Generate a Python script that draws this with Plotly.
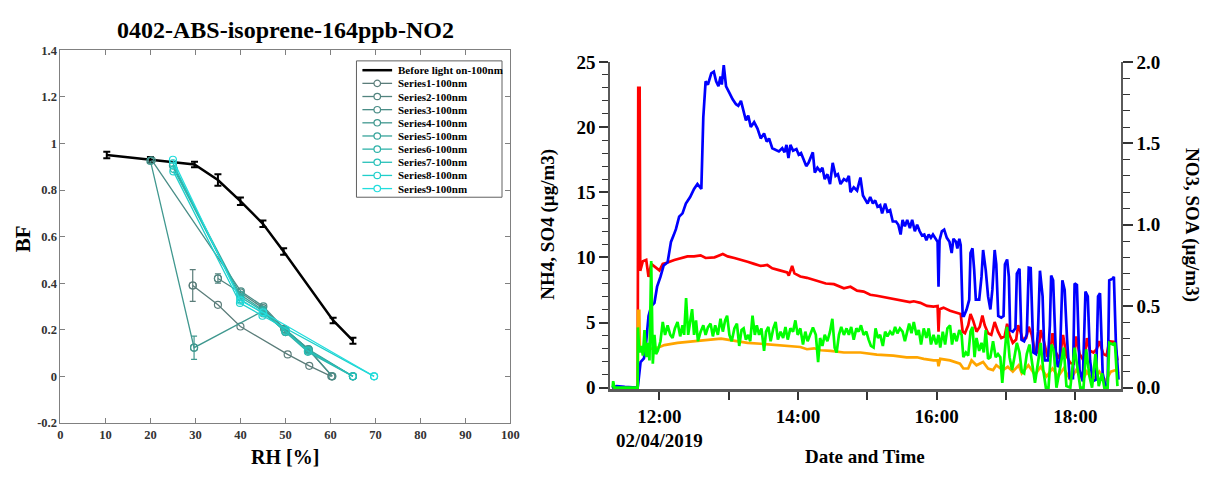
import pandas as pd
import plotly.graph_objects as go

# ---------------- Left panel data: BF vs RH ----------------
rh_before = [10.3, 20.0, 29.8, 35.0, 40.0, 45.0, 49.6, 60.6, 65.0]
bf_before = [0.950, 0.930, 0.910, 0.843, 0.752, 0.655, 0.536, 0.240, 0.153]
err_before = [0.014, 0.012, 0.012, 0.025, 0.016, 0.014, 0.014, 0.012, 0.013]

series_names = ["Series%d-100nm" % i for i in range(1, 10)]
rh_series = [
    [29.4, 35.0, 40.0, 50.5, 55.3, 60.2],
    [35.0, 40.0, 45.0, 49.7, 55.1, 60.4],
    [20.3, 40.1, 45.1, 50.0, 55.1, 60.4],
    [20.0, 29.7, 45.0, 50.0, 55.2, 65.0],
    [25.0, 40.0, 45.0, 50.0, 55.2, 65.0],
    [25.2, 40.0, 45.0, 50.0, 55.0, 65.0],
    [25.0, 40.0, 45.1, 50.0, 55.0, 65.0],
    [25.1, 39.9, 44.9, 69.7],
    [25.0, 40.0, 45.0, 69.7],
]
bf_series = [
    [0.390, 0.307, 0.214, 0.094, 0.045, 0.0],
    [0.420, 0.360, 0.293, 0.204, 0.117, 0.0],
    [0.928, 0.365, 0.300, 0.200, 0.115, 0.0],
    [0.925, 0.123, 0.280, 0.190, 0.110, 0.0],
    [0.905, 0.350, 0.285, 0.200, 0.115, 0.0],
    [0.890, 0.340, 0.280, 0.190, 0.105, 0.0],
    [0.915, 0.330, 0.270, 0.195, 0.110, 0.0],
    [0.880, 0.315, 0.260, 0.0],
    [0.930, 0.325, 0.275, 0.0],
]
# (series index, point index, error)
series_errors = [(0, 0, 0.068), (1, 0, 0.02), (3, 1, 0.05)]
series_colors = ["#5b7d7a", "#52847f", "#4a8d87", "#40988f", "#37a49b",
                 "#2eb2a9", "#26c0b9", "#20cfcb", "#22dddd"]

# ---------------- Right panel data: time series (minutes after 11:00) ----------------
t_so4 = [19, 41.2, 41.7, 42.9, 43.4, 45.7, 48.6, 50.6, 52.9, 55.7, 60, 62.9, 67.1, 72.9, 78.6, 84.3, 90, 95.7, 100,
         107.7, 114.9, 119.1, 124.9, 130.6, 136.3, 142, 147.7, 153.4, 157.7, 163.4, 170.6, 172, 174.9, 176.9, 182, 187.7,
         191.1, 196.8, 204, 211.1, 219.7, 225.4, 231.1, 236.8, 242.5, 248.2, 254, 259.7, 265.4, 271.1, 276.8,
         280.2, 285.9, 291.6, 297.3, 300.8, 301.6, 302.5, 305.9, 311.6, 317.3, 320.8, 322.5, 324.5, 327.3, 329.3, 331.6,
         334.5, 337.3, 339.6, 341.6, 344.5, 347.3, 350.2, 353.1, 355.9, 358.8, 361, 363.1, 365.9, 368.8,
         370.5, 372.5, 374.5, 377.4, 379.7, 382.3, 385.1, 388, 390, 392.8, 395.7, 398, 400.3, 403.1, 406.5, 409.4,
         412.3, 415.7, 418.5, 420.8, 423.7, 428, 430, 432.8, 435.7, 438.5, 440.8, 444.3, 447.1, 449.4, 454, 456.5]
so4 = [0, 0, 23.0, 23.0, 8.97, 9.7, 9.8, 8.5, 9.5, 9.3, 9.0, 9.5, 9.6, 9.8, 9.95, 10.07, 10.07, 10.15, 9.95,
       10.0, 10.25, 10.07, 9.95, 9.83, 9.66, 9.5, 9.34, 9.41, 9.16, 9.02, 8.85, 8.6, 9.34, 8.77, 8.53, 8.43,
       8.35, 8.18, 7.99, 7.94, 7.62, 7.74, 7.44, 7.37, 7.13, 7.05, 6.95, 6.81, 6.76, 6.63, 6.56,
       6.63, 6.51, 6.27, 6.22, 6.27, 4.3, 6.02, 6.14, 5.9, 5.77, 5.65, 4.3, 4.18, 4.79, 5.65, 5.14,
       4.3, 4.67, 5.53, 4.79, 4.18, 4.05, 5.04, 4.3, 3.81, 3.93, 4.91, 4.05, 3.44, 3.69,
       4.79, 4.3, 3.69, 3.81, 4.67, 4.05, 2.7, 2.7, 4.42, 3.56, 2.46, 2.46, 4.18, 2.7, 2.21, 4.05,
       2.46, 1.89, 1.84, 3.93, 2.58, 1.97, 3.81, 2.83, 2.7, 2.95, 3.56, 2.58, 2.46, 3.56, 3.51, 2.09]

t_nh4 = [19, 41.2, 41.4, 42.6, 43.1, 50, 58.6, 64.3, 75.7, 87.1, 104.3, 113.4, 124.9, 136.3, 147.7, 159.1, 170.6,
         182, 187.7, 194, 199.7, 208.2, 219.7, 234, 248.2, 262.5, 274, 283, 288.8, 297.3, 300.8, 301.6, 303.1,
         311.6, 320.2, 323.1, 327.3, 330.2, 334.5, 340.2, 344.5, 348.8, 351.6, 357.3, 361.6, 365.9, 371, 373.7,
         379.4, 385.1, 390, 395.1, 400.3, 405.1, 410, 415.7, 420.8, 426.5, 430, 435.1, 440.8, 446, 450.8, 455.1, 457.4]
nh4 = [0, 0, 5.9, 5.9, 3.05, 2.95, 3.07, 3.27, 3.44, 3.56, 3.69, 3.76, 3.61, 3.44, 3.37, 3.27, 3.19,
       3.12, 2.95, 3.02, 2.87, 2.83, 2.70, 2.70, 2.53, 2.46, 2.33, 2.33, 2.21, 2.09, 2.1, 1.65, 2.21,
       2.09, 1.84, 1.47, 1.47, 2.09, 1.72, 1.97, 1.47, 1.35, 1.72, 1.35, 1.6, 1.23, 1.72, 1.1,
       1.72, 0.98, 1.6, 0.86, 1.47, 0.86, 1.47, 0.61, 1.35, 0.61, 1.23, 0.57, 1.23, 0.49, 1.23, 1.35, 1.1]

t_soa = [19, 23, 30, 40, 41.4, 43.7, 46.6, 48.6, 50.6, 52.9, 55.7, 58, 60.9, 63.7, 67.1, 70, 72.3, 74.3, 77.1, 80,
         82.9, 86.6, 90, 92.9, 96.3, 98, 100, 102,
         104.9, 107.1, 109.1, 111.1, 112.9, 114, 115.7, 117.7, 120.6, 123.4, 126.3, 128.3, 130.6, 133.4, 134.9,
         136.9, 139.1, 142, 144.9, 147.7, 150.6, 152.9, 154.9, 157.7, 160.6, 163.4, 166.3, 168.3, 170, 171.7,
         173.4, 175.7, 178.6, 180.6, 182.6, 184.9, 187.1, 189.1,
         191.1, 192.8, 194.5, 196.8, 199.1, 201.1, 203.1, 205.4, 207.7, 210, 212.5, 214.5, 216.8, 219.7, 222,
         224, 225.4, 228.2, 231.1, 234, 236.2, 238.2, 240.2, 242.5, 244.8, 246.8, 248.8, 251.1, 252.8, 255.4,
         257.4, 259.7, 262, 264.8, 266.8, 268.8, 270.5, 272.5, 274.5, 276.8, 278.8, 281.1, 283.1,
         285.3, 287.3, 289.3, 291.1, 293.1, 295, 296.8, 298.8, 300.8, 301.6, 302.5, 304.5, 306.5, 308.8, 311.1,
         313, 314.5, 316.8, 317.9, 319.6, 320.8, 322.5, 323.6, 325.9, 328.2, 329.3, 331, 332.5, 333.9, 336.8,
         338.8, 340.2, 342.5, 344.5, 346.5, 348.2, 350.2, 351.6, 353.3, 355.9, 357.9, 359.1, 361, 362.5, 363.6,
         365.9, 368.2,
         369.4, 371.7, 373.4, 375.7, 378, 379.7, 381.4, 383.7, 386, 387.7, 389.4, 391.7, 393.4, 396.3, 398,
         399.1, 400.8, 403.1, 404.8, 406.5, 408.8, 410.8, 412.8, 415.1, 418, 419.4, 421.4, 423.7, 426.5, 428.8,
         430.8, 432.8, 435.1, 438, 439.7, 441.4, 443.7, 446, 448, 449.4, 452.3, 453.4, 455.1, 457.4]
soa = [0.0, 0.01, 0.005, 0.0, 0.01, 0.157, 0.18, 0.285, 0.44, 0.50, 0.52, 0.62, 0.68, 0.75, 0.77, 0.895, 0.935,
       0.973, 1.05, 1.07, 1.13, 1.17, 1.22, 1.25, 1.22, 1.66, 1.88, 1.86,
       1.93, 1.94, 1.88, 1.85, 1.91, 1.86, 1.98, 1.85, 1.81, 1.77, 1.74, 1.73, 1.76, 1.69, 1.64,
       1.67, 1.60, 1.63, 1.59, 1.53, 1.56, 1.51, 1.53, 1.47, 1.46, 1.45, 1.47, 1.445, 1.49, 1.41,
       1.49, 1.455, 1.465, 1.43, 1.44, 1.40, 1.36, 1.38,
       1.42, 1.445, 1.32, 1.35, 1.33, 1.35, 1.28, 1.31, 1.25, 1.38, 1.30, 1.31, 1.25, 1.28, 1.27,
       1.30, 1.20, 1.23, 1.21, 1.29, 1.18, 1.15, 1.13, 1.17, 1.13, 1.15, 1.11, 1.12, 1.07, 1.13,
       1.08, 1.09, 1.02, 1.02, 1.00, 0.94, 1.03, 0.99, 1.03, 0.98, 1.03, 0.96, 1.00,
       0.96, 0.934, 0.94, 0.905, 0.94, 0.92, 0.94, 0.914, 0.895, 0.62, 0.905, 0.96, 0.97, 0.92, 0.895,
       0.826, 0.914, 0.895, 0.855, 0.914, 0.875, 0.44, 0.44, 0.48, 0.54, 0.826, 0.855, 0.72, 0.54, 0.54,
       0.68, 0.845, 0.72, 0.56, 0.48, 0.60, 0.845, 0.757, 0.44, 0.43, 0.44, 0.757, 0.787, 0.68, 0.354,
       0.344, 0.364,
       0.70, 0.73, 0.295, 0.285, 0.324, 0.737, 0.734, 0.216, 0.206, 0.344, 0.718, 0.56, 0.167, 0.167, 0.383,
       0.688, 0.659, 0.226, 0.128, 0.138, 0.659, 0.60, 0.305, 0.059, 0.059, 0.64, 0.63, 0.108, 0.039, 0.59,
       0.56, 0.167, 0.039, 0.049, 0.56, 0.58, 0.088, 0.01, 0.01, 0.659, 0.669, 0.68, 0.285, 0.049]

t_no3 = [19.5, 20, 21, 41.2, 41.4, 42.6, 44.3, 45.7, 47.1, 48.6, 50, 51.4, 52.9, 54.3, 55.7, 57.1, 58.6, 60.9,
         62.9, 64.9, 67.1, 69.4, 71.4, 73.4, 75.7, 78, 80, 81.4, 83.1, 84.9, 86.6, 88.3, 90, 91.7, 93.4, 95.7,
         98, 100,
         102, 104.3, 106.3, 108.3, 110.6, 112.9, 114.9, 116.9, 118.6, 120.6, 122.6, 124.9, 127.1, 129.1, 131.1,
         132.9, 134.9, 136.9, 138.6, 140.6, 142.6, 144.3, 146.3, 148.3, 150.6, 152.3, 154.3, 156.3, 158.6,
         160.6, 162.6, 164.9, 167.1, 169.1, 171.1, 173.4, 175.7, 177.7, 179.7, 182, 184.3, 186.3, 188.3, 190.6,
         192.9, 195.4, 197.4, 199.1, 201.1, 203.1, 205.4, 207.7, 209.7, 211.7, 213.4, 215.4, 217.4, 219.7, 222,
         224, 226, 228.2, 230.5, 232.5, 234.5, 236.8, 239.1, 241.1, 243.1, 245.4, 247.1, 249.1, 251.1, 253.4,
         255.4, 257.4, 259.7, 262, 264, 266, 268.2, 270.5, 272.5, 274.5, 276.2, 278.2, 280.2,
         282.5, 284.5, 286.5, 288.8, 291.1, 293.1, 295.1, 297.3, 299.6, 301.6, 303.1, 305.3, 307.3, 309.3,
         311.6, 313.3, 315.1, 317.3, 319.6, 321.6, 323.1, 325.3, 327.3, 329.3, 331, 332.8, 334.5, 336.8,
         338.8, 340.8, 342.5, 344.5, 346.5, 348.8, 351.1, 353.1, 355.1, 356.8, 358.8, 360.8, 363.1, 365.3, 367.3,
         369.4, 371.7, 373.7, 375.7, 378, 380.3, 382.3, 385.1, 388, 390, 392.3, 394.5, 396.8, 399.4, 401.4,
         403.7, 406.5, 410, 412.3, 415.7, 419.4, 422.3, 424.3, 427.1, 429.4, 432.3, 434.5, 437.4, 440.3,
         443.1, 445.1, 448, 449.4, 452.3, 454.3, 456.5]
no3 = [0, 0.04, 0, 0, 0.37, 0.216, 0.256, 0.197, 0.354, 0.187, 0.275, 0.167, 0.777, 0.147, 0.324, 0.206, 0.226,
       0.285, 0.403, 0.324, 0.383, 0.324, 0.305, 0.364, 0.403, 0.315, 0.383, 0.324, 0.55, 0.324, 0.403, 0.482,
       0.324, 0.413, 0.285, 0.344, 0.383, 0.324,
       0.37, 0.393, 0.315, 0.383, 0.324, 0.423, 0.344, 0.413, 0.442, 0.324, 0.285, 0.364, 0.393, 0.256, 0.354,
       0.364, 0.295, 0.324, 0.285, 0.442, 0.324, 0.383, 0.324, 0.364, 0.226, 0.344, 0.373, 0.285, 0.364,
       0.403, 0.295, 0.344, 0.305, 0.373, 0.295, 0.364, 0.344, 0.413, 0.324, 0.364, 0.265, 0.344, 0.285, 0.324,
       0.37, 0.324, 0.157, 0.305, 0.256, 0.324, 0.285, 0.344, 0.423, 0.246, 0.216, 0.324, 0.373, 0.324, 0.364,
       0.324, 0.373, 0.295, 0.364, 0.344, 0.383, 0.324, 0.344, 0.295, 0.256, 0.246, 0.364, 0.305, 0.324, 0.256,
       0.344, 0.315, 0.344, 0.324, 0.373, 0.334, 0.364, 0.344, 0.285, 0.344, 0.393, 0.334, 0.403,
       0.324, 0.354, 0.265, 0.364, 0.305, 0.364, 0.265, 0.324, 0.265, 0.324, 0.246, 0.344, 0.265, 0.364,
       0.383, 0.265, 0.334, 0.285, 0.354, 0.324, 0.187, 0.216, 0.197, 0.344, 0.373, 0.187, 0.305, 0.226,
       0.275, 0.216, 0.354, 0.177, 0.187, 0.285, 0.187, 0.206, 0.187, 0.03, 0.206, 0.373, 0.187, 0.108, 0.187,
       0.275, 0.216, 0.098, 0.088, 0.206, 0.265, 0.167, 0.03, 0.167, 0.275, 0.108, 0, 0, 0.265, 0.226,
       0, 0.108, 0.246, 0.01, 0, 0.246, 0.088, 0, 0, 0.236, 0.069, 0, 0.206, 0.01,
       0.088, 0, 0, 0.275, 0.265, 0.275, 0.01]

hour_ticks = [12, 13, 14, 15, 16, 17, 18]
hour_labels = ["12:00<br>02/04/2019", "", "14:00", "", "16:00", "", "18:00"]
bf_tickvals = [1.4, 1.2, 1.0, 0.8, 0.6, 0.4, 0.2, 0.0, -0.2]
bf_ticktext = ["1.4", "1.2", "1", "0.8", "0.6", "0.4", "0.2", "0", "-0.2"]

# ---------------- layout helpers ----------------
W, H = 1211, 477
def fx(p):
    return p / W
def fy(p):
    return 1 - p / H

SERIF = "Liberation Serif"
base = pd.Timestamp("2019-02-04 11:00")
def to_time(mins):
    return [base + pd.Timedelta(minutes=m) for m in mins]

fig = go.Figure()

# Left panel traces
fig.add_trace(go.Scatter(x=rh_before, y=bf_before, mode="lines", line=dict(color="black", width=2.5),
                         error_y=dict(type="data", array=err_before, color="black", thickness=2, width=3.5),
                         xaxis="x", yaxis="y", showlegend=False))
for i in range(9):
    fig.add_trace(go.Scatter(x=rh_series[i], y=bf_series[i], mode="lines+markers",
                             line=dict(color=series_colors[i], width=1.3),
                             marker=dict(symbol="circle-open", size=7, color=series_colors[i], line=dict(width=1.2)),
                             xaxis="x", yaxis="y", showlegend=False))
for (si, pi, e) in series_errors:
    fig.add_trace(go.Scatter(x=[rh_series[si][pi]], y=[bf_series[si][pi]], mode="markers",
                             marker=dict(symbol="circle-open", size=7, color=series_colors[si], line=dict(width=1.2)),
                             error_y=dict(type="data", array=[e], color=series_colors[si], thickness=1.2, width=3),
                             xaxis="x", yaxis="y", showlegend=False))

# Right panel traces
fig.add_trace(go.Scatter(x=to_time(t_so4), y=so4, mode="lines", line=dict(color="#ff0000", width=2.7),
                         xaxis="x2", yaxis="y2", showlegend=False))
fig.add_trace(go.Scatter(x=to_time(t_nh4), y=nh4, mode="lines", line=dict(color="#ffa500", width=2.7),
                         xaxis="x2", yaxis="y2", showlegend=False))
fig.add_trace(go.Scatter(x=to_time(t_soa), y=soa, mode="lines", line=dict(color="#0000ff", width=2.7),
                         xaxis="x2", yaxis="y3", showlegend=False))
fig.add_trace(go.Scatter(x=to_time(t_no3), y=no3, mode="lines", line=dict(color="#00ff00", width=2.7),
                         xaxis="x2", yaxis="y3", showlegend=False))

left_tick_font = dict(family=SERIF, size=12.5, color="#333333", weight="bold")
right_tick_font = dict(family=SERIF, size=19, color="black", weight="bold")

fig.update_layout(
    width=W, height=H, margin=dict(l=0, r=0, t=0, b=0),
    paper_bgcolor="white", plot_bgcolor="white",
    xaxis=dict(domain=[fx(58), fx(512.5)], range=[0, 100], anchor="y", dtick=10,
               showline=True, linecolor="#808080", linewidth=1, mirror="ticks",
               ticks="inside", ticklen=5, tickcolor="#808080", showgrid=False, zeroline=False,
               tickfont=left_tick_font),
    yaxis=dict(domain=[fy(430), fy(42)], range=[-0.2, 1.4], anchor="x",
               tickvals=bf_tickvals, ticktext=bf_ticktext,
               showline=True, linecolor="#808080", linewidth=1, mirror="ticks",
               ticks="inside", ticklen=5, tickcolor="#808080", showgrid=False, zeroline=False,
               tickfont=left_tick_font),
    xaxis2=dict(domain=[fx(613.5), fx(1129)], anchor="y2",
                range=[base + pd.Timedelta(minutes=17.6), base + pd.Timedelta(minutes=459.4)],
                tickvals=[base + pd.Timedelta(hours=h - 11) for h in hour_ticks], ticktext=hour_labels,
                showline=True, linecolor="#5a5a5a", linewidth=2.5, ticks="outside", ticklen=8,
                tickwidth=1.5, tickcolor="#333333",
                showgrid=False, zeroline=False, tickfont=right_tick_font),
    yaxis2=dict(domain=[fy(394.7), fy(54)], range=[-0.1, 25], anchor="x2", side="left",
                tickvals=[0, 5, 10, 15, 20, 25], showline=True, linecolor="#5a5a5a", linewidth=2,
                ticks="outside", ticklen=9, tickwidth=1.5, tickcolor="#333333",
                minor=dict(dtick=1, ticks="outside", ticklen=6, tickcolor="#333333", tickwidth=1.2, showgrid=False),
                showgrid=False, zeroline=False, tickfont=right_tick_font),
    yaxis3=dict(domain=[fy(394.7), fy(54)], range=[-0.008, 2.0], anchor="x2", overlaying="y2", side="right",
                tickvals=[0, 0.5, 1.0, 1.5, 2.0], ticktext=["0.0", "0.5", "1.0", "1.5", "2.0"],
                showline=True, linecolor="#5a5a5a", linewidth=2,
                ticks="outside", ticklen=10, tickwidth=1.5, tickcolor="#333333",
                minor=dict(dtick=0.1, ticks="outside", ticklen=7, tickcolor="#333333", tickwidth=1.2, showgrid=False),
                showgrid=False, zeroline=False, tickfont=right_tick_font),
)

annots = [
    dict(text="0402-ABS-isoprene-164ppb-NO2", x=fx(285), y=fy(21), size=24, angle=0),
    dict(text="BF", x=fx(20), y=fy(238), size=21, angle=-90),
    dict(text="RH [%]", x=fx(285), y=fy(466), size=20, angle=0),
    dict(text="NH4, SO4 (µg/m3)", x=fx(551), y=fy(223), size=19, angle=-90),
    dict(text="NO3, SOA (µg/m3)", x=fx(1201), y=fy(224), size=19, angle=90),
    dict(text="Date and Time", x=fx(871), y=fy(465), size=19, angle=0),
]
for a in annots:
    fig.add_annotation(text=a["text"], x=a["x"], y=a["y"], xref="paper", yref="paper",
                       xanchor="center", yanchor="middle", showarrow=False, textangle=a["angle"],
                       font=dict(family=SERIF, size=a["size"], color="black", weight="bold"))

# Custom legend (MATLAB-style compact box)
leg_x0, leg_x1, leg_y0, leg_y1 = 357, 504, 53, 195
row0, row_h = 62.7, 13.7
line_x0, line_x1, text_x = 363, 393, 397
fig.add_shape(type="rect", xref="paper", yref="paper", x0=fx(leg_x0), x1=fx(leg_x1), y0=fy(leg_y1), y1=fy(leg_y0),
              line=dict(color="#606060", width=1), fillcolor="white", layer="above")
legend_items = [("Before light on-100nm", "black", False)] + [(n, c, True) for n, c in zip(series_names, series_colors)]
for k, (name, col, has_marker) in enumerate(legend_items):
    yc = row0 + k * row_h
    fig.add_shape(type="line", xref="paper", yref="paper", x0=fx(line_x0), x1=fx(line_x1), y0=fy(yc), y1=fy(yc),
                  line=dict(color=col, width=2.5 if not has_marker else 1.3), layer="above")
    if has_marker:
        xm = (line_x0 + line_x1) / 2
        r = 3.3
        fig.add_shape(type="circle", xref="paper", yref="paper", x0=fx(xm - r), x1=fx(xm + r),
                      y0=fy(yc + r), y1=fy(yc - r), line=dict(color=col, width=1.2), fillcolor="white", layer="above")
    fig.add_annotation(text=name, x=fx(text_x), y=fy(yc), xref="paper", yref="paper", xanchor="left",
                       yanchor="middle", showarrow=False,
                       font=dict(family=SERIF, size=11, color="black", weight="bold"))

fig.write_html("out.html")
